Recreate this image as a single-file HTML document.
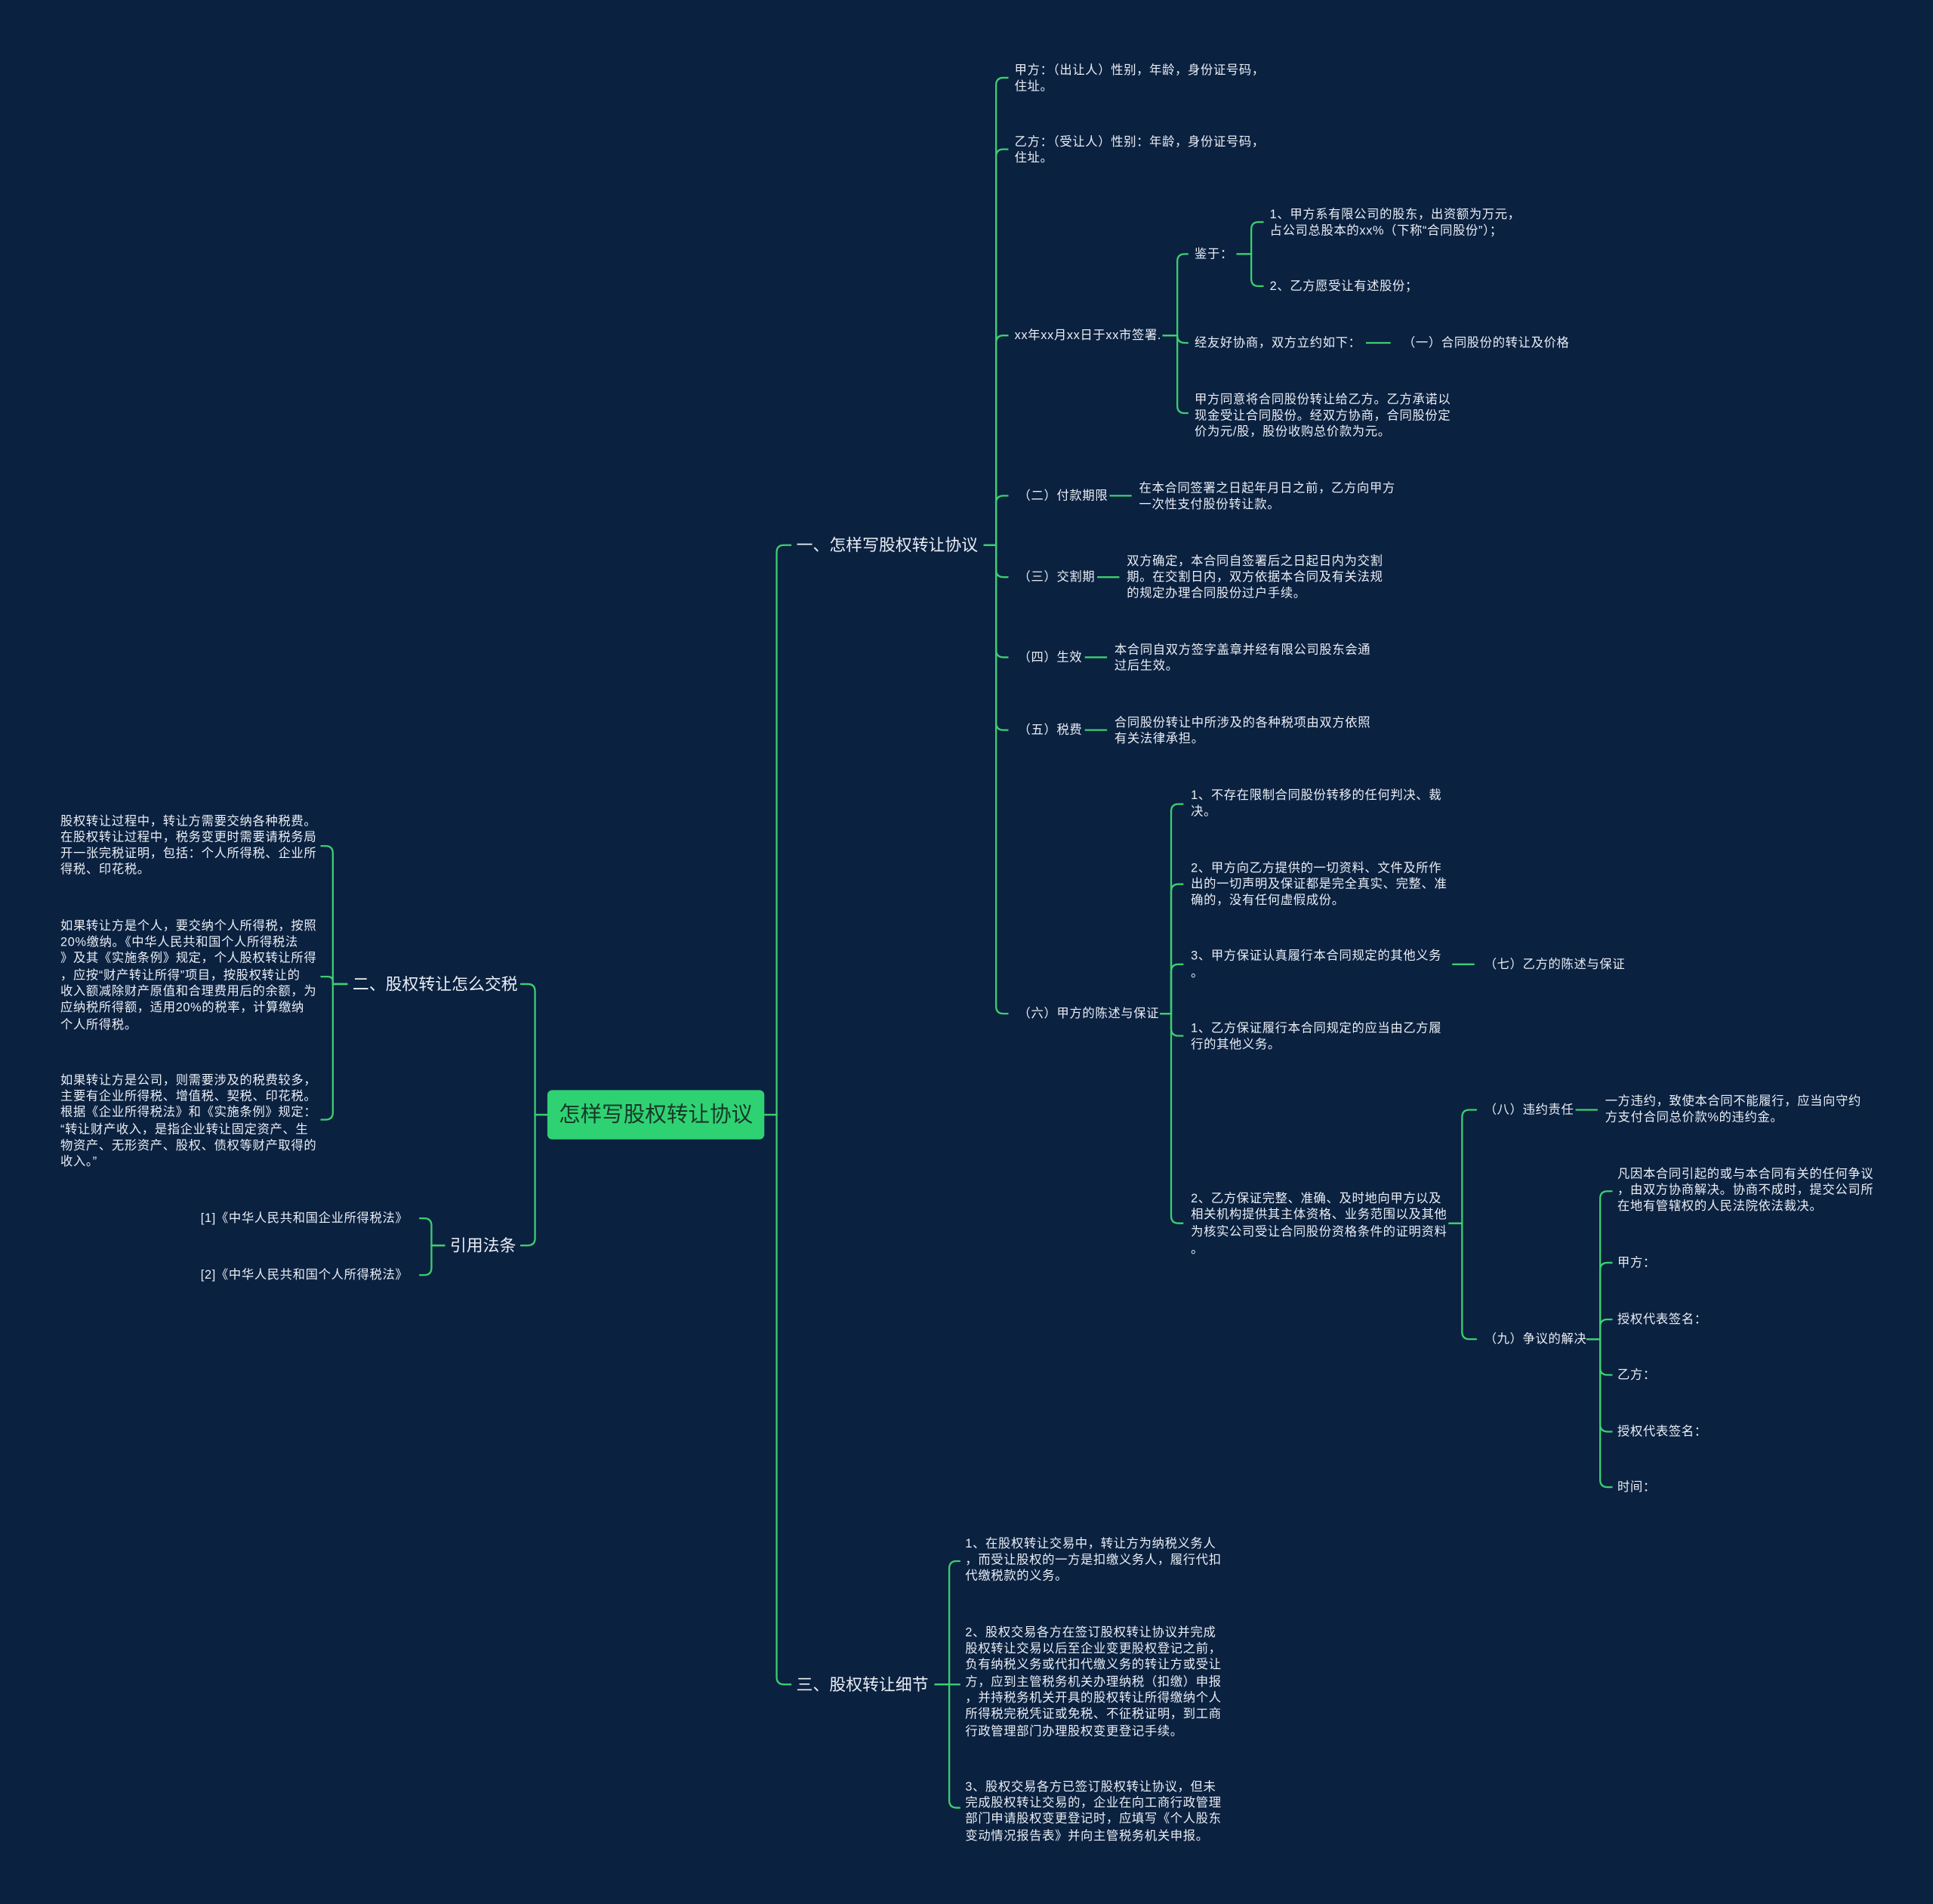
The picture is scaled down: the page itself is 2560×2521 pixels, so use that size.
<!DOCTYPE html>
<html><head><meta charset="utf-8">
<style>
html,body{margin:0;padding:0;background:#0b2140;}
svg{display:block;}
text{font-family:"Liberation Sans","Noto Sans CJK SC",sans-serif;fill:#e9eef5;dominant-baseline:central;}
.s{font-size:10px;letter-spacing:0.4px;}
.m{font-size:13.4px;}
path,line{stroke:#3ccf70;stroke-width:1.4;fill:none;}
</style></head>
<body>
<svg width="2560" height="2521" viewBox="0 0 1568 1544" xmlns="http://www.w3.org/2000/svg">
<rect width="1568" height="1544" fill="#0b2140"/>
<path d="M620 904 H630 V448 Q630 442 636 442 H642"/>
<path d="M620 904 H630 V1360 Q630 1366 636 1366 H642"/>
<path d="M444 904 H434 V804 Q434 798 428 798 H422"/>
<path d="M444 904 H434 V1004 Q434 1010 428 1010 H422"/>

<path d="M798 442 H808 V69 Q808 63 814 63 H818"/>
<path d="M798 442 H808 V127 Q808 121 814 121 H818"/>
<path d="M798 442 H808 V278 Q808 272 814 272 H818"/>
<path d="M798 442 H808 V408 Q808 402 814 402 H818"/>
<path d="M798 442 H808 V462 Q808 468 814 468 H818"/>
<path d="M798 442 H808 V527 Q808 533 814 533 H818"/>
<path d="M798 442 H808 V586 Q808 592 814 592 H818"/>
<path d="M798 442 H808 V816 Q808 822 814 822 H818"/>

<path d="M943 272 H955 V212 Q955 206 961 206 H964"/>
<path d="M943 272 H955 V272 Q955 278 961 278 H964"/>
<path d="M943 272 H955 V329 Q955 335 961 335 H964"/>

<path d="M1003 206 H1015 V186 Q1015 180 1021 180 H1025"/>
<path d="M1003 206 H1015 V226 Q1015 232 1021 232 H1025"/>

<path d="M941 822 H950 V658 Q950 652 956 652 H960"/>
<path d="M941 822 H950 V723 Q950 717 956 717 H960"/>
<path d="M941 822 H950 V788 Q950 782 956 782 H960"/>
<path d="M941 822 H950 V834 Q950 840 956 840 H960"/>
<path d="M941 822 H950 V986 Q950 992 956 992 H960"/>

<path d="M1175 992 H1186 V906 Q1186 900 1192 900 H1198"/>
<path d="M1175 992 H1186 V1080 Q1186 1086 1192 1086 H1198"/>

<path d="M1287 1086 H1298 V972 Q1298 966 1304 966 H1308"/>
<path d="M1287 1086 H1298 V1030 Q1298 1024 1304 1024 H1308"/>
<path d="M1287 1086 H1298 V1076 Q1298 1070 1304 1070 H1308"/>
<path d="M1287 1086 H1298 V1109 Q1298 1115 1304 1115 H1308"/>
<path d="M1287 1086 H1298 V1155 Q1298 1161 1304 1161 H1308"/>
<path d="M1287 1086 H1298 V1200 Q1298 1206 1304 1206 H1308"/>

<path d="M758 1366 H770 V1272 Q770 1266 776 1266 H779"/>
<path d="M758 1366 H779"/>
<path d="M758 1366 H770 V1460 Q770 1466 776 1466 H779"/>

<path d="M282 798 H270 V692 Q270 686 264 686 H260"/>
<path d="M282 798 H270 V796 Q270 792 266 792 H260"/>
<path d="M282 798 H270 V902 Q270 908 264 908 H260"/>

<path d="M361 1010 H350 V994 Q350 988 344 988 H340"/>
<path d="M361 1010 H350 V1028 Q350 1034 344 1034 H340"/>

<line x1="900" y1="402" x2="918" y2="402"/>
<line x1="890" y1="468" x2="908" y2="468"/>
<line x1="880" y1="533" x2="898" y2="533"/>
<line x1="880" y1="592" x2="898" y2="592"/>
<line x1="1108" y1="278" x2="1128" y2="278"/>
<line x1="1178" y1="782" x2="1196" y2="782"/>
<line x1="1278" y1="900" x2="1296" y2="900"/>

<rect x="444" y="884" width="176" height="40" rx="4" fill="#2fd273" style="stroke:none"/>
<text x="532" y="904" text-anchor="middle" style="font-size:17.5px;fill:#173828">怎样写股权转让协议</text>

<text class="m" x="646" y="442">一、怎样写股权转让协议</text>
<text class="m" x="646" y="1366">三、股权转让细节</text>
<text class="m" x="286" y="798">二、股权转让怎么交税</text>
<text class="m" x="365" y="1010">引用法条</text>

<text class="s" x="823" y="57">甲方：（出让人）性别，年龄，身份证号码，</text>
<text class="s" x="823" y="70">住址。</text>
<text class="s" x="823" y="115">乙方：（受让人）性别：年龄，身份证号码，</text>
<text class="s" x="823" y="128">住址。</text>
<text class="s" x="823" y="272">xx年xx月xx日于xx市签署.</text>
<text class="s" x="969" y="206">鉴于：</text>
<text class="s" x="1030" y="174">1、甲方系有限公司的股东，出资额为万元，</text>
<text class="s" x="1030" y="187">占公司总股本的xx%（下称“合同股份”）；</text>
<text class="s" x="1030" y="232">2、乙方愿受让有述股份；</text>
<text class="s" x="969" y="278">经友好协商，双方立约如下：</text>
<text class="s" x="1138" y="278">（一）合同股份的转让及价格</text>
<text class="s" x="969" y="324">甲方同意将合同股份转让给乙方。乙方承诺以</text>
<text class="s" x="969" y="337">现金受让合同股份。经双方协商，合同股份定</text>
<text class="s" x="969" y="350">价为元/股，股份收购总价款为元。</text>

<text class="s" x="826" y="402">（二）付款期限</text>
<text class="s" x="924" y="396">在本合同签署之日起年月日之前，乙方向甲方</text>
<text class="s" x="924" y="409">一次性支付股份转让款。</text>
<text class="s" x="826" y="468">（三）交割期</text>
<text class="s" x="914" y="455">双方确定，本合同自签署后之日起日内为交割</text>
<text class="s" x="914" y="468">期。在交割日内，双方依据本合同及有关法规</text>
<text class="s" x="914" y="481">的规定办理合同股份过户手续。</text>
<text class="s" x="826" y="533">（四）生效</text>
<text class="s" x="904" y="527">本合同自双方签字盖章并经有限公司股东会通</text>
<text class="s" x="904" y="540">过后生效。</text>
<text class="s" x="826" y="592">（五）税费</text>
<text class="s" x="904" y="586">合同股份转让中所涉及的各种税项由双方依照</text>
<text class="s" x="904" y="599">有关法律承担。</text>
<text class="s" x="826" y="822">（六）甲方的陈述与保证</text>

<text class="s" x="966" y="645">1、不存在限制合同股份转移的任何判决、裁</text>
<text class="s" x="966" y="658">决。</text>
<text class="s" x="966" y="704">2、甲方向乙方提供的一切资料、文件及所作</text>
<text class="s" x="966" y="717">出的一切声明及保证都是完全真实、完整、准</text>
<text class="s" x="966" y="730">确的，没有任何虚假成份。</text>
<text class="s" x="966" y="775">3、甲方保证认真履行本合同规定的其他义务</text>
<text class="s" x="966" y="789">。</text>
<text class="s" x="1204" y="782">（七）乙方的陈述与保证</text>
<text class="s" x="966" y="834">1、乙方保证履行本合同规定的应当由乙方履</text>
<text class="s" x="966" y="847">行的其他义务。</text>
<text class="s" x="966" y="972">2、乙方保证完整、准确、及时地向甲方以及</text>
<text class="s" x="966" y="985">相关机构提供其主体资格、业务范围以及其他</text>
<text class="s" x="966" y="999">为核实公司受让合同股份资格条件的证明资料</text>
<text class="s" x="966" y="1013">。</text>

<text class="s" x="1204" y="900">（八）违约责任</text>
<text class="s" x="1302" y="893">一方违约，致使本合同不能履行，应当向守约</text>
<text class="s" x="1302" y="906">方支付合同总价款%的违约金。</text>
<text class="s" x="1204" y="1086">（九）争议的解决</text>
<text class="s" x="1312" y="952">凡因本合同引起的或与本合同有关的任何争议</text>
<text class="s" x="1312" y="965">，由双方协商解决。协商不成时，提交公司所</text>
<text class="s" x="1312" y="978">在地有管辖权的人民法院依法裁决。</text>
<text class="s" x="1312" y="1024">甲方：</text>
<text class="s" x="1312" y="1070">授权代表签名：</text>
<text class="s" x="1312" y="1115">乙方：</text>
<text class="s" x="1312" y="1161">授权代表签名：</text>
<text class="s" x="1312" y="1206">时间：</text>

<text class="s" x="783" y="1252">1、在股权转让交易中，转让方为纳税义务人</text>
<text class="s" x="783" y="1265">，而受让股权的一方是扣缴义务人，履行代扣</text>
<text class="s" x="783" y="1278">代缴税款的义务。</text>
<text class="s" x="783" y="1324">2、股权交易各方在签订股权转让协议并完成</text>
<text class="s" x="783" y="1337">股权转让交易以后至企业变更股权登记之前，</text>
<text class="s" x="783" y="1350">负有纳税义务或代扣代缴义务的转让方或受让</text>
<text class="s" x="783" y="1364">方，应到主管税务机关办理纳税（扣缴）申报</text>
<text class="s" x="783" y="1377">，并持税务机关开具的股权转让所得缴纳个人</text>
<text class="s" x="783" y="1390">所得税完税凭证或免税、不征税证明，到工商</text>
<text class="s" x="783" y="1404">行政管理部门办理股权变更登记手续。</text>
<text class="s" x="783" y="1449">3、股权交易各方已签订股权转让协议，但未</text>
<text class="s" x="783" y="1462">完成股权转让交易的，企业在向工商行政管理</text>
<text class="s" x="783" y="1475">部门申请股权变更登记时，应填写《个人股东</text>
<text class="s" x="783" y="1489">变动情况报告表》并向主管税务机关申报。</text>

<text class="s" x="49" y="666">股权转让过程中，转让方需要交纳各种税费。</text>
<text class="s" x="49" y="679">在股权转让过程中，税务变更时需要请税务局</text>
<text class="s" x="49" y="692">开一张完税证明，包括：个人所得税、企业所</text>
<text class="s" x="49" y="705">得税、印花税。</text>
<text class="s" x="49" y="751">如果转让方是个人，要交纳个人所得税，按照</text>
<text class="s" x="49" y="764">20%缴纳。《中华人民共和国个人所得税法</text>
<text class="s" x="49" y="777">》及其《实施条例》规定，个人股权转让所得</text>
<text class="s" x="49" y="791">，应按“财产转让所得”项目，按股权转让的</text>
<text class="s" x="49" y="804">收入额减除财产原值和合理费用后的余额，为</text>
<text class="s" x="49" y="817">应纳税所得额，适用20%的税率，计算缴纳</text>
<text class="s" x="49" y="831">个人所得税。</text>
<text class="s" x="49" y="876">如果转让方是公司，则需要涉及的税费较多，</text>
<text class="s" x="49" y="889">主要有企业所得税、增值税、契税、印花税。</text>
<text class="s" x="49" y="902">根据《企业所得税法》和《实施条例》规定：</text>
<text class="s" x="49" y="916">“转让财产收入，是指企业转让固定资产、生</text>
<text class="s" x="49" y="929">物资产、无形资产、股权、债权等财产取得的</text>
<text class="s" x="49" y="942">收入。”</text>

<text class="s" x="331" y="988" text-anchor="end">[1]《中华人民共和国企业所得税法》</text>
<text class="s" x="331" y="1034" text-anchor="end">[2]《中华人民共和国个人所得税法》</text>
</svg>
</body></html>
